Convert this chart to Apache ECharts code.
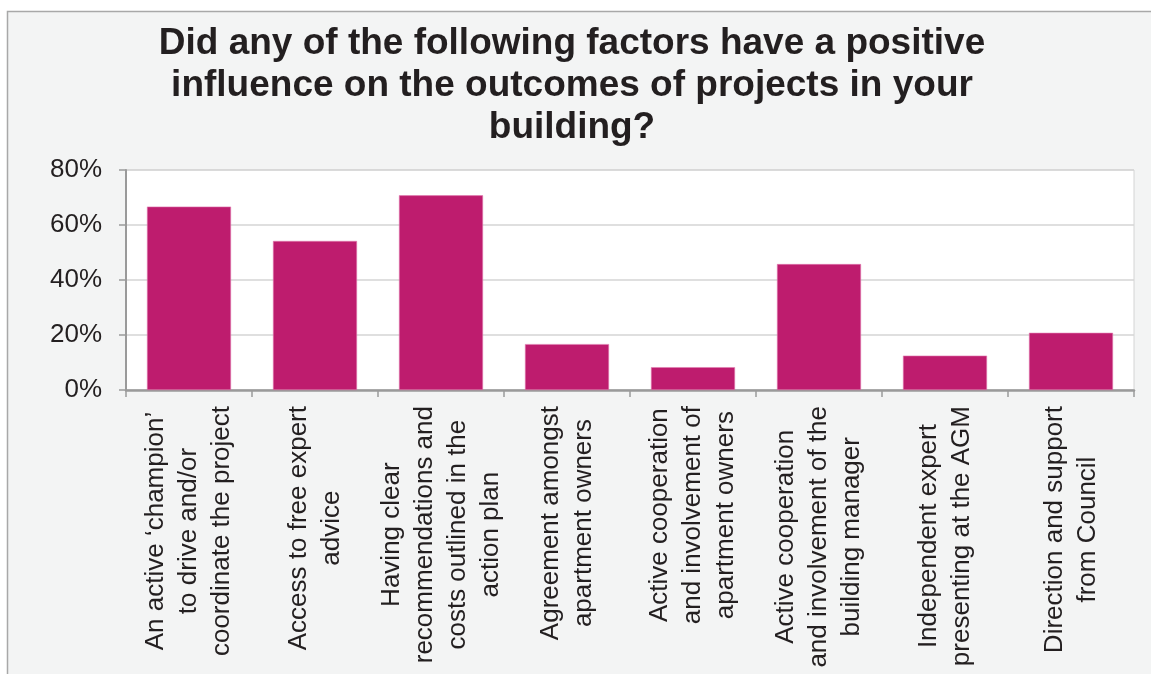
<!DOCTYPE html>
<html>
<head>
<meta charset="utf-8">
<title>Positive influences on project outcomes</title>
<script src="https://cdn.jsdelivr.net/npm/echarts@6/dist/echarts.min.js"></script>
<style>
  html, body { margin: 0; padding: 0; background: #ffffff; }
  #chart { width: 1151px; height: 674px; }
</style>
</head>
<body>
<div id="chart"></div>
<script>
// Survey question and answer options
const titleText = 'Did any of the following factors have a positive\ninfluence on the outcomes of projects in your\nbuilding?';

const factors = [
  'An active \u2018champion\u2019\nto drive and/or\ncoordinate the project',
  'Access to free expert\nadvice',
  'Having clear\nrecommendations and\ncosts outlined in the\naction plan',
  'Agreement amongst\napartment owners',
  'Active cooperation\nand involvement of\napartment owners',
  'Active cooperation\nand involvement of the\nbuilding manager',
  'Independent expert\npresenting at the AGM',
  'Direction and support\nfrom Council'
];

// Share of respondents (%) naming each factor
const shares = [66.7, 54.2, 70.8, 16.7, 8.3, 45.8, 12.5, 20.8];

// Value axis range and step (%)
const yMin = 0;
const yMax = 80;
const yStep = 20;

const FONT = '"Liberation Sans", Arial, Helvetica, sans-serif';
const INK = '#231f20';

const chart = echarts.init(document.getElementById('chart'), null, { renderer: 'canvas' });

chart.setOption({
  animation: false,
  backgroundColor: '#ffffff',
  graphic: [
    {
      type: 'rect',
      z: -10,
      silent: true,
      shape: { x: 7.5, y: 11.5, width: 1300, height: 800 },
      style: { fill: '#f3f4f4', stroke: '#a8a8a8', lineWidth: 1.5 }
    }
  ],
  title: {
    text: titleText,
    left: 572,
    top: 23,
    textAlign: 'center',
    padding: 0,
    textStyle: {
      fontFamily: FONT,
      fontWeight: 'bold',
      fontSize: 37,
      lineHeight: 42,
      color: INK
    }
  },
  grid: {
    left: 126,
    right: 17,
    top: 170,
    bottom: 284,
    containLabel: false,
    show: true,
    backgroundColor: '#ffffff',
    borderColor: '#d4d4d4',
    borderWidth: 1
  },
  xAxis: {
    type: 'category',
    data: factors,
    boundaryGap: true,
    axisLine: { show: true, lineStyle: { color: '#9a9a9a', width: 2.5 } },
    axisTick: { show: true, length: 7, alignWithLabel: false, lineStyle: { color: '#9a9a9a', width: 1.5 } },
    axisLabel: {
      interval: 0,
      rotate: 90,
      margin: 16,
      fontFamily: FONT,
      fontSize: 26,
      lineHeight: 33,
      color: INK,
      formatter: function (v) {
        return v.split('\n').map(function (l) { return '{c|' + l + '}'; }).join('\n');
      },
      rich: {
        c: {
          align: 'center',
          fontFamily: FONT,
          fontSize: 26,
          lineHeight: 33,
          color: INK
        }
      }
    }
  },
  yAxis: {
    type: 'value',
    min: yMin,
    max: yMax,
    interval: yStep,
    axisLine: { show: true, lineStyle: { color: '#9a9a9a', width: 2 } },
    axisTick: { show: true, length: 7, lineStyle: { color: '#9a9a9a', width: 1.5 } },
    splitLine: { show: true, lineStyle: { color: '#d4d4d4', width: 1.5 } },
    axisLabel: {
      margin: 24,
      fontFamily: FONT,
      fontSize: 26,
      color: INK,
      padding: [4, 0, 0, 0],
      formatter: '{value}%'
    }
  },
  series: [
    {
      type: 'bar',
      data: shares,
      barCategoryGap: '33.3%',
      itemStyle: { color: '#be1c6e', borderColor: '#e07aae', borderWidth: 0.6 }
    }
  ]
});
</script>
</body>
</html>
